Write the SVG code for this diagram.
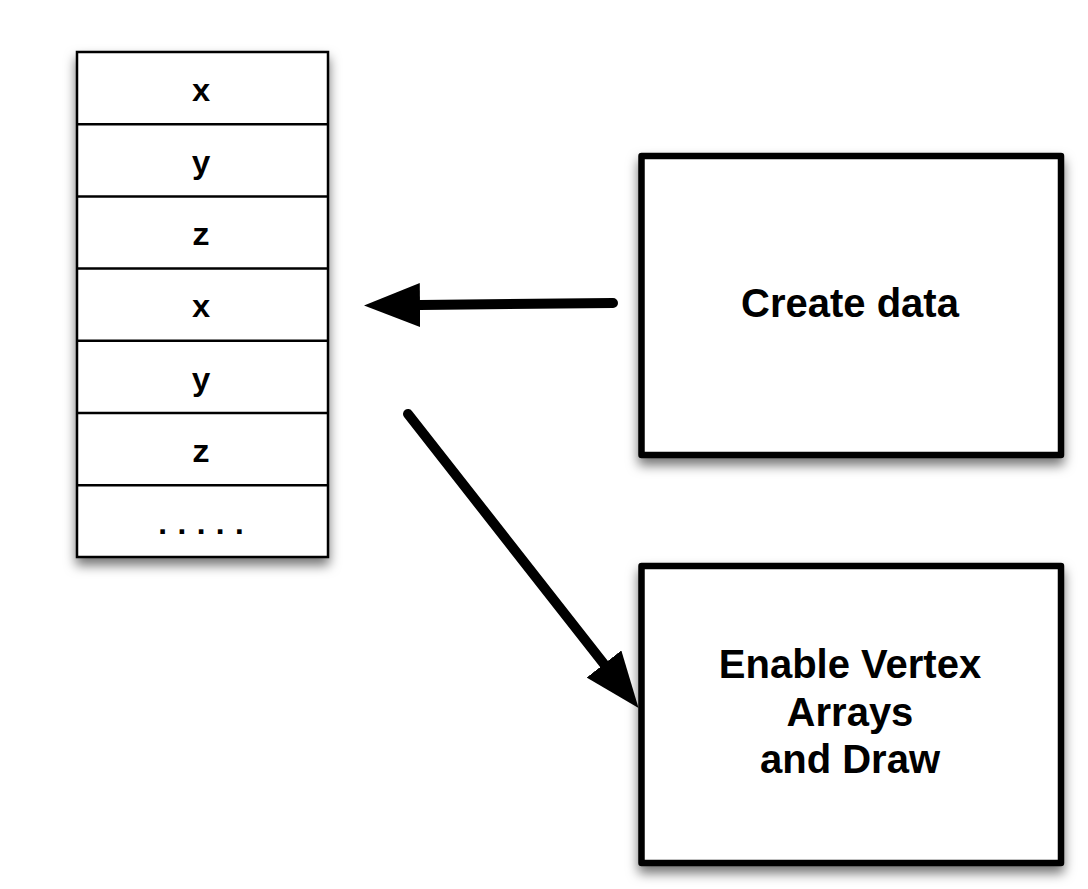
<svg xmlns="http://www.w3.org/2000/svg" width="1088" height="889" viewBox="0 0 1088 889">
<defs>
<filter id="sh" x="-20%" y="-20%" width="140%" height="140%">
<feDropShadow dx="0" dy="7" stdDeviation="6" flood-color="#000" flood-opacity="0.55"/>
</filter>
<marker id="ah" viewBox="0 -22 56 44" refX="0" refY="0" markerWidth="56" markerHeight="44" markerUnits="userSpaceOnUse" orient="auto">
<path d="M0,-22 L56,0 L0,22 z" fill="#000"/>
</marker>
<style>
.cell{fill:#fff;stroke:#000;stroke-width:2.5}
.box{fill:#fff;stroke:#000;stroke-width:6.5;stroke-linejoin:round}
.mono{font-family:"Liberation Mono","Courier New",monospace;font-weight:bold;font-size:32px;text-anchor:middle;fill:#000}
.lbl{font-family:"Liberation Sans",Arial,Helvetica,sans-serif;font-weight:bold;font-size:40px;text-anchor:middle;fill:#000}
.conn{stroke:#000;stroke-width:10;stroke-linecap:round;fill:none}
</style>
</defs>
<rect width="1088" height="889" fill="#fff"/>
<g id="array" filter="url(#sh)">
<rect class="cell" x="77" y="52" width="251" height="505"/>
<line class="cell" x1="77" y1="124.2" x2="328" y2="124.2"/>
<line class="cell" x1="77" y1="196.4" x2="328" y2="196.4"/>
<line class="cell" x1="77" y1="268.6" x2="328" y2="268.6"/>
<line class="cell" x1="77" y1="340.8" x2="328" y2="340.8"/>
<line class="cell" x1="77" y1="413" x2="328" y2="413"/>
<line class="cell" x1="77" y1="485.2" x2="328" y2="485.2"/>
</g>
<g id="array-labels">
<text class="mono" x="201" y="101">x</text>
<text class="mono" x="201" y="173">y</text>
<text class="mono" x="201" y="245">z</text>
<text class="mono" x="201" y="317">x</text>
<text class="mono" x="201" y="390">y</text>
<text class="mono" x="201" y="462">z</text>
<text class="mono" x="201" y="534" font-size="34px">.....</text>
</g>
<g id="create-data">
<rect class="box" x="641.5" y="156" width="419.5" height="299" filter="url(#sh)"/>
<text class="lbl" x="850" y="317">Create data</text>
</g>
<g id="enable-draw">
<rect class="box" x="641.5" y="566" width="419.5" height="297" filter="url(#sh)"/>
<text class="lbl" x="850" y="678">Enable Vertex</text>
<text class="lbl" x="850" y="726">Arrays</text>
<text class="lbl" x="850" y="773">and Draw</text>
</g>
<g id="connectors">
<line class="conn" x1="613" y1="303" x2="420" y2="305" marker-end="url(#ah)"/>
<line class="conn" x1="408" y1="414" x2="604" y2="664" marker-end="url(#ah)"/>
</g>
</svg>
